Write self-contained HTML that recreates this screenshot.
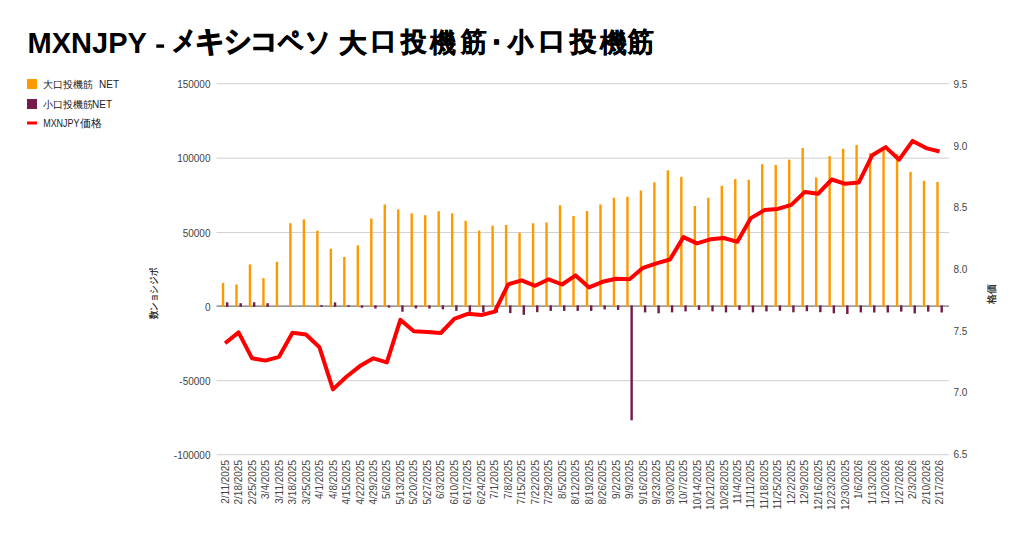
<!DOCTYPE html>
<html><head><meta charset="utf-8">
<style>
html,body{margin:0;padding:0;background:#fff;}
body{width:1024px;height:537px;overflow:hidden;position:relative;}
svg{position:absolute;left:0;top:0;}
text{font-family:"Liberation Sans",sans-serif;}
</style></head><body>
<svg width="1024" height="537" viewBox="0 0 1024 537">
<text transform="translate(27.6,53) scale(1,1.04)" font-size="29" font-weight="bold" fill="#000">MXNJPY</text>
<rect x="156.3" y="44.4" width="7.8" height="3.4" fill="#000"/>
<text transform="translate(172.27,50.02) scale(0.817,0.958)" font-size="29" font-weight="bold" fill="#000" stroke="#000" stroke-width="1.0">メ</text>
<text transform="translate(194.54,50.87) scale(1.028,1.008)" font-size="29" font-weight="bold" fill="#000" stroke="#000" stroke-width="1.0">キ</text>
<text transform="translate(223.64,50.64) scale(0.931,1.020)" font-size="29" font-weight="bold" fill="#000" stroke="#000" stroke-width="1.0">シ</text>
<text transform="translate(249.90,49.99) scale(0.967,0.905)" font-size="29" font-weight="bold" fill="#000" stroke="#000" stroke-width="1.0">コ</text>
<text transform="translate(277.80,50.78) scale(0.860,0.977)" font-size="29" font-weight="bold" fill="#000" stroke="#000" stroke-width="1.0">ペ</text>
<text transform="translate(304.85,50.72) scale(0.883,0.946)" font-size="29" font-weight="bold" fill="#000" stroke="#000" stroke-width="1.0">ソ</text>
<text transform="translate(338.75,51.50) scale(0.954,0.900)" font-size="29" font-weight="bold" fill="#000" stroke="#000" stroke-width="0.9">大</text>
<text transform="translate(371.13,49.33) scale(0.883,0.842)" font-size="29" font-weight="bold" fill="#000" stroke="#000" stroke-width="0.9">口</text>
<text transform="translate(401.09,51.37) scale(0.893,0.947)" font-size="29" font-weight="bold" fill="#000" stroke="#000" stroke-width="0.6">投</text>
<text transform="translate(430.41,52.25) scale(0.907,0.938)" font-size="29" font-weight="bold" fill="#000" stroke="#000" stroke-width="0.25">機</text>
<text transform="translate(461.20,51.28) scale(0.900,0.945)" font-size="29" font-weight="bold" fill="#000" stroke="#000" stroke-width="0.5">筋</text>
<text transform="translate(490.27,51.97) scale(0.883,0.883)" font-size="29" font-weight="bold" fill="#000" stroke="#000" stroke-width="0.6">･</text>
<text transform="translate(507.88,51.47) scale(0.877,0.907)" font-size="29" font-weight="bold" fill="#000" stroke="#000" stroke-width="0.9">小</text>
<text transform="translate(539.08,49.33) scale(0.909,0.842)" font-size="29" font-weight="bold" fill="#000" stroke="#000" stroke-width="0.9">口</text>
<text transform="translate(569.63,51.37) scale(0.927,0.947)" font-size="29" font-weight="bold" fill="#000" stroke="#000" stroke-width="0.6">投</text>
<text transform="translate(600.24,52.25) scale(0.937,0.938)" font-size="29" font-weight="bold" fill="#000" stroke="#000" stroke-width="0.25">機</text>
<text transform="translate(628.30,51.28) scale(0.907,0.945)" font-size="29" font-weight="bold" fill="#000" stroke="#000" stroke-width="0.5">筋</text>
<rect x="27" y="79" width="10" height="10" fill="#ff9900"/>
<text x="43.3" y="88" font-size="10" fill="#222">大口投機筋</text>
<text x="99.1" y="88" font-size="10" fill="#222">NET</text>
<rect x="27" y="99" width="10" height="10" fill="#741b47"/>
<text x="43.3" y="108" font-size="10" fill="#222">小口投機筋</text>
<text x="92.0" y="108" font-size="10" fill="#222">NET</text>
<rect x="27" y="121.5" width="10" height="3" fill="#ff0000"/>
<text x="43.2" y="127" font-size="10" fill="#222" textLength="36.3" lengthAdjust="spacingAndGlyphs">MXNJPY</text>
<text x="79.6" y="127" font-size="10.5" fill="#222">価格</text>
<rect x="216.5" y="83.20" width="732.5" height="1.05" fill="#d2d2d2"/>
<text x="210.5" y="88.10" font-size="10" fill="#444" text-anchor="end">150000</text>
<rect x="216.5" y="157.60" width="732.5" height="1.05" fill="#d2d2d2"/>
<text x="210.5" y="162.30" font-size="10" fill="#444" text-anchor="end">100000</text>
<rect x="216.5" y="232.00" width="732.5" height="1.05" fill="#d2d2d2"/>
<text x="210.5" y="236.60" font-size="10" fill="#444" text-anchor="end">50000</text>
<text x="210.5" y="310.80" font-size="10" fill="#444" text-anchor="end">0</text>
<rect x="216.5" y="380.10" width="732.5" height="1.05" fill="#d2d2d2"/>
<text x="210.5" y="385.10" font-size="10" fill="#444" text-anchor="end">-50000</text>
<rect x="216.5" y="454.20" width="732.5" height="1.05" fill="#d2d2d2"/>
<text x="210.5" y="459.30" font-size="10" fill="#444" text-anchor="end">-100000</text>
<text x="953.5" y="88.10" font-size="10" fill="#444">9.5</text>
<text x="953.5" y="149.73" font-size="10" fill="#444">9.0</text>
<text x="953.5" y="211.36" font-size="10" fill="#444">8.5</text>
<text x="953.5" y="272.99" font-size="10" fill="#444">8.0</text>
<text x="953.5" y="334.62" font-size="10" fill="#444">7.5</text>
<text x="953.5" y="396.25" font-size="10" fill="#444">7.0</text>
<text x="953.5" y="457.88" font-size="10" fill="#444">6.5</text>
<rect x="216.5" y="305.3" width="732.5" height="1.7" fill="#9a9a9a"/>
<rect x="221.80" y="283.00" width="2.4" height="23.80" fill="#ff9900"/>
<rect x="235.28" y="284.50" width="2.4" height="22.30" fill="#ff9900"/>
<rect x="248.76" y="264.40" width="2.4" height="42.40" fill="#ff9900"/>
<rect x="262.24" y="278.20" width="2.4" height="28.60" fill="#ff9900"/>
<rect x="275.72" y="261.70" width="2.4" height="45.10" fill="#ff9900"/>
<rect x="289.20" y="223.20" width="2.4" height="83.60" fill="#ff9900"/>
<rect x="302.69" y="219.40" width="2.4" height="87.40" fill="#ff9900"/>
<rect x="316.17" y="230.70" width="2.4" height="76.10" fill="#ff9900"/>
<rect x="329.65" y="248.70" width="2.4" height="58.10" fill="#ff9900"/>
<rect x="343.13" y="257.00" width="2.4" height="49.80" fill="#ff9900"/>
<rect x="356.61" y="245.40" width="2.4" height="61.40" fill="#ff9900"/>
<rect x="370.09" y="218.50" width="2.4" height="88.30" fill="#ff9900"/>
<rect x="383.57" y="204.50" width="2.4" height="102.30" fill="#ff9900"/>
<rect x="397.05" y="209.40" width="2.4" height="97.40" fill="#ff9900"/>
<rect x="410.53" y="213.40" width="2.4" height="93.40" fill="#ff9900"/>
<rect x="424.01" y="215.20" width="2.4" height="91.60" fill="#ff9900"/>
<rect x="437.50" y="211.20" width="2.4" height="95.60" fill="#ff9900"/>
<rect x="450.98" y="213.40" width="2.4" height="93.40" fill="#ff9900"/>
<rect x="464.46" y="220.80" width="2.4" height="86.00" fill="#ff9900"/>
<rect x="477.94" y="230.60" width="2.4" height="76.20" fill="#ff9900"/>
<rect x="491.42" y="225.70" width="2.4" height="81.10" fill="#ff9900"/>
<rect x="504.90" y="225.00" width="2.4" height="81.80" fill="#ff9900"/>
<rect x="518.38" y="232.70" width="2.4" height="74.10" fill="#ff9900"/>
<rect x="531.86" y="223.30" width="2.4" height="83.50" fill="#ff9900"/>
<rect x="545.34" y="222.50" width="2.4" height="84.30" fill="#ff9900"/>
<rect x="558.82" y="205.30" width="2.4" height="101.50" fill="#ff9900"/>
<rect x="572.31" y="216.00" width="2.4" height="90.80" fill="#ff9900"/>
<rect x="585.79" y="211.00" width="2.4" height="95.80" fill="#ff9900"/>
<rect x="599.27" y="204.50" width="2.4" height="102.30" fill="#ff9900"/>
<rect x="612.75" y="197.80" width="2.4" height="109.00" fill="#ff9900"/>
<rect x="626.23" y="196.80" width="2.4" height="110.00" fill="#ff9900"/>
<rect x="639.71" y="190.50" width="2.4" height="116.30" fill="#ff9900"/>
<rect x="653.19" y="182.30" width="2.4" height="124.50" fill="#ff9900"/>
<rect x="666.67" y="170.30" width="2.4" height="136.50" fill="#ff9900"/>
<rect x="680.15" y="176.90" width="2.4" height="129.90" fill="#ff9900"/>
<rect x="693.63" y="206.00" width="2.4" height="100.80" fill="#ff9900"/>
<rect x="707.12" y="197.80" width="2.4" height="109.00" fill="#ff9900"/>
<rect x="720.60" y="185.80" width="2.4" height="121.00" fill="#ff9900"/>
<rect x="734.08" y="179.10" width="2.4" height="127.70" fill="#ff9900"/>
<rect x="747.56" y="179.80" width="2.4" height="127.00" fill="#ff9900"/>
<rect x="761.04" y="164.20" width="2.4" height="142.60" fill="#ff9900"/>
<rect x="774.52" y="164.90" width="2.4" height="141.90" fill="#ff9900"/>
<rect x="788.00" y="159.60" width="2.4" height="147.20" fill="#ff9900"/>
<rect x="801.48" y="148.00" width="2.4" height="158.80" fill="#ff9900"/>
<rect x="814.96" y="177.40" width="2.4" height="129.40" fill="#ff9900"/>
<rect x="828.44" y="156.20" width="2.4" height="150.60" fill="#ff9900"/>
<rect x="841.93" y="148.80" width="2.4" height="158.00" fill="#ff9900"/>
<rect x="855.41" y="145.00" width="2.4" height="161.80" fill="#ff9900"/>
<rect x="868.89" y="153.30" width="2.4" height="153.50" fill="#ff9900"/>
<rect x="882.37" y="150.10" width="2.4" height="156.70" fill="#ff9900"/>
<rect x="895.85" y="153.80" width="2.4" height="153.00" fill="#ff9900"/>
<rect x="909.33" y="171.90" width="2.4" height="134.90" fill="#ff9900"/>
<rect x="922.81" y="180.80" width="2.4" height="126.00" fill="#ff9900"/>
<rect x="936.29" y="182.00" width="2.4" height="124.80" fill="#ff9900"/>
<rect x="226.00" y="302.30" width="2.4" height="4.50" fill="#741b47"/>
<rect x="239.48" y="303.20" width="2.4" height="3.60" fill="#741b47"/>
<rect x="252.96" y="302.30" width="2.4" height="4.50" fill="#741b47"/>
<rect x="266.44" y="303.20" width="2.4" height="3.60" fill="#741b47"/>
<rect x="320.37" y="305.20" width="2.4" height="1.60" fill="#741b47"/>
<rect x="333.85" y="302.40" width="2.4" height="4.40" fill="#741b47"/>
<rect x="347.33" y="305.30" width="2.4" height="1.50" fill="#741b47"/>
<rect x="360.81" y="305.40" width="2.4" height="2.30" fill="#741b47"/>
<rect x="374.29" y="305.40" width="2.4" height="3.10" fill="#741b47"/>
<rect x="387.77" y="305.40" width="2.4" height="2.20" fill="#741b47"/>
<rect x="401.25" y="305.40" width="2.4" height="6.30" fill="#741b47"/>
<rect x="414.73" y="305.40" width="2.4" height="3.00" fill="#741b47"/>
<rect x="428.22" y="305.40" width="2.4" height="3.10" fill="#741b47"/>
<rect x="441.70" y="305.40" width="2.4" height="3.90" fill="#741b47"/>
<rect x="455.18" y="305.40" width="2.4" height="5.40" fill="#741b47"/>
<rect x="468.66" y="305.40" width="2.4" height="6.40" fill="#741b47"/>
<rect x="482.14" y="305.40" width="2.4" height="7.10" fill="#741b47"/>
<rect x="495.62" y="305.40" width="2.4" height="7.20" fill="#741b47"/>
<rect x="509.10" y="305.40" width="2.4" height="7.70" fill="#741b47"/>
<rect x="522.58" y="305.40" width="2.4" height="9.40" fill="#741b47"/>
<rect x="536.06" y="305.40" width="2.4" height="6.80" fill="#741b47"/>
<rect x="549.54" y="305.40" width="2.4" height="5.50" fill="#741b47"/>
<rect x="563.02" y="305.40" width="2.4" height="5.50" fill="#741b47"/>
<rect x="576.51" y="305.40" width="2.4" height="5.50" fill="#741b47"/>
<rect x="589.99" y="305.40" width="2.4" height="5.50" fill="#741b47"/>
<rect x="603.47" y="305.40" width="2.4" height="4.00" fill="#741b47"/>
<rect x="616.95" y="305.40" width="2.4" height="4.50" fill="#741b47"/>
<rect x="630.43" y="305.40" width="2.4" height="114.90" fill="#741b47"/>
<rect x="643.91" y="305.40" width="2.4" height="7.00" fill="#741b47"/>
<rect x="657.39" y="305.40" width="2.4" height="7.90" fill="#741b47"/>
<rect x="670.87" y="305.40" width="2.4" height="7.00" fill="#741b47"/>
<rect x="684.35" y="305.40" width="2.4" height="6.00" fill="#741b47"/>
<rect x="697.83" y="305.40" width="2.4" height="4.50" fill="#741b47"/>
<rect x="711.32" y="305.40" width="2.4" height="6.00" fill="#741b47"/>
<rect x="724.80" y="305.40" width="2.4" height="7.00" fill="#741b47"/>
<rect x="738.28" y="305.40" width="2.4" height="4.50" fill="#741b47"/>
<rect x="751.76" y="305.40" width="2.4" height="7.00" fill="#741b47"/>
<rect x="765.24" y="305.40" width="2.4" height="6.00" fill="#741b47"/>
<rect x="778.72" y="305.40" width="2.4" height="5.40" fill="#741b47"/>
<rect x="792.20" y="305.40" width="2.4" height="6.90" fill="#741b47"/>
<rect x="805.68" y="305.40" width="2.4" height="5.80" fill="#741b47"/>
<rect x="819.16" y="305.40" width="2.4" height="6.80" fill="#741b47"/>
<rect x="832.64" y="305.40" width="2.4" height="7.90" fill="#741b47"/>
<rect x="846.13" y="305.40" width="2.4" height="8.60" fill="#741b47"/>
<rect x="859.61" y="305.40" width="2.4" height="7.00" fill="#741b47"/>
<rect x="873.09" y="305.40" width="2.4" height="7.10" fill="#741b47"/>
<rect x="886.57" y="305.40" width="2.4" height="7.10" fill="#741b47"/>
<rect x="900.05" y="305.40" width="2.4" height="6.20" fill="#741b47"/>
<rect x="913.53" y="305.40" width="2.4" height="8.00" fill="#741b47"/>
<rect x="927.01" y="305.40" width="2.4" height="6.20" fill="#741b47"/>
<rect x="940.49" y="305.40" width="2.4" height="7.10" fill="#741b47"/>
<polyline points="225.10,343.30 238.58,332.40 252.06,358.30 265.54,360.60 279.02,356.80 292.50,332.70 305.99,334.50 319.47,347.30 332.95,389.40 346.43,376.80 359.91,366.10 373.39,358.30 386.87,362.40 400.35,319.80 413.83,331.20 427.31,332.00 440.80,333.00 454.28,318.80 467.76,313.80 481.24,315.10 494.72,311.60 508.20,284.40 521.68,280.40 535.16,285.80 548.64,279.30 562.12,284.50 575.61,275.40 589.09,287.40 602.57,281.80 616.05,278.80 629.53,279.20 643.01,267.80 656.49,263.30 669.97,259.50 683.45,237.10 696.93,243.40 710.42,239.30 723.90,238.00 737.38,241.80 750.86,218.10 764.34,210.10 777.82,208.90 791.30,204.90 804.78,191.90 818.26,193.70 831.75,179.50 845.23,183.80 858.71,182.60 872.19,155.30 885.67,147.10 899.15,159.70 912.63,140.90 926.11,148.10 939.59,151.50" fill="none" stroke="#ff0000" stroke-width="4" stroke-linejoin="round"/>
<text transform="translate(228.70,460) rotate(-90)" font-size="10" fill="#444" text-anchor="end">2/11/2025</text>
<text transform="translate(242.18,460) rotate(-90)" font-size="10" fill="#444" text-anchor="end">2/18/2025</text>
<text transform="translate(255.66,460) rotate(-90)" font-size="10" fill="#444" text-anchor="end">2/25/2025</text>
<text transform="translate(269.14,460) rotate(-90)" font-size="10" fill="#444" text-anchor="end">3/4/2025</text>
<text transform="translate(282.62,460) rotate(-90)" font-size="10" fill="#444" text-anchor="end">3/11/2025</text>
<text transform="translate(296.11,460) rotate(-90)" font-size="10" fill="#444" text-anchor="end">3/18/2025</text>
<text transform="translate(309.59,460) rotate(-90)" font-size="10" fill="#444" text-anchor="end">3/25/2025</text>
<text transform="translate(323.07,460) rotate(-90)" font-size="10" fill="#444" text-anchor="end">4/1/2025</text>
<text transform="translate(336.55,460) rotate(-90)" font-size="10" fill="#444" text-anchor="end">4/8/2025</text>
<text transform="translate(350.03,460) rotate(-90)" font-size="10" fill="#444" text-anchor="end">4/15/2025</text>
<text transform="translate(363.51,460) rotate(-90)" font-size="10" fill="#444" text-anchor="end">4/22/2025</text>
<text transform="translate(376.99,460) rotate(-90)" font-size="10" fill="#444" text-anchor="end">4/29/2025</text>
<text transform="translate(390.47,460) rotate(-90)" font-size="10" fill="#444" text-anchor="end">5/6/2025</text>
<text transform="translate(403.95,460) rotate(-90)" font-size="10" fill="#444" text-anchor="end">5/13/2025</text>
<text transform="translate(417.43,460) rotate(-90)" font-size="10" fill="#444" text-anchor="end">5/20/2025</text>
<text transform="translate(430.92,460) rotate(-90)" font-size="10" fill="#444" text-anchor="end">5/27/2025</text>
<text transform="translate(444.40,460) rotate(-90)" font-size="10" fill="#444" text-anchor="end">6/3/2025</text>
<text transform="translate(457.88,460) rotate(-90)" font-size="10" fill="#444" text-anchor="end">6/10/2025</text>
<text transform="translate(471.36,460) rotate(-90)" font-size="10" fill="#444" text-anchor="end">6/17/2025</text>
<text transform="translate(484.84,460) rotate(-90)" font-size="10" fill="#444" text-anchor="end">6/24/2025</text>
<text transform="translate(498.32,460) rotate(-90)" font-size="10" fill="#444" text-anchor="end">7/1/2025</text>
<text transform="translate(511.80,460) rotate(-90)" font-size="10" fill="#444" text-anchor="end">7/8/2025</text>
<text transform="translate(525.28,460) rotate(-90)" font-size="10" fill="#444" text-anchor="end">7/15/2025</text>
<text transform="translate(538.76,460) rotate(-90)" font-size="10" fill="#444" text-anchor="end">7/22/2025</text>
<text transform="translate(552.24,460) rotate(-90)" font-size="10" fill="#444" text-anchor="end">7/29/2025</text>
<text transform="translate(565.73,460) rotate(-90)" font-size="10" fill="#444" text-anchor="end">8/5/2025</text>
<text transform="translate(579.21,460) rotate(-90)" font-size="10" fill="#444" text-anchor="end">8/12/2025</text>
<text transform="translate(592.69,460) rotate(-90)" font-size="10" fill="#444" text-anchor="end">8/19/2025</text>
<text transform="translate(606.17,460) rotate(-90)" font-size="10" fill="#444" text-anchor="end">8/26/2025</text>
<text transform="translate(619.65,460) rotate(-90)" font-size="10" fill="#444" text-anchor="end">9/2/2025</text>
<text transform="translate(633.13,460) rotate(-90)" font-size="10" fill="#444" text-anchor="end">9/9/2025</text>
<text transform="translate(646.61,460) rotate(-90)" font-size="10" fill="#444" text-anchor="end">9/16/2025</text>
<text transform="translate(660.09,460) rotate(-90)" font-size="10" fill="#444" text-anchor="end">9/23/2025</text>
<text transform="translate(673.57,460) rotate(-90)" font-size="10" fill="#444" text-anchor="end">9/30/2025</text>
<text transform="translate(687.05,460) rotate(-90)" font-size="10" fill="#444" text-anchor="end">10/7/2025</text>
<text transform="translate(700.53,460) rotate(-90)" font-size="10" fill="#444" text-anchor="end">10/14/2025</text>
<text transform="translate(714.02,460) rotate(-90)" font-size="10" fill="#444" text-anchor="end">10/21/2025</text>
<text transform="translate(727.50,460) rotate(-90)" font-size="10" fill="#444" text-anchor="end">10/28/2025</text>
<text transform="translate(740.98,460) rotate(-90)" font-size="10" fill="#444" text-anchor="end">11/4/2025</text>
<text transform="translate(754.46,460) rotate(-90)" font-size="10" fill="#444" text-anchor="end">11/11/2025</text>
<text transform="translate(767.94,460) rotate(-90)" font-size="10" fill="#444" text-anchor="end">11/18/2025</text>
<text transform="translate(781.42,460) rotate(-90)" font-size="10" fill="#444" text-anchor="end">11/25/2025</text>
<text transform="translate(794.90,460) rotate(-90)" font-size="10" fill="#444" text-anchor="end">12/2/2025</text>
<text transform="translate(808.38,460) rotate(-90)" font-size="10" fill="#444" text-anchor="end">12/9/2025</text>
<text transform="translate(821.86,460) rotate(-90)" font-size="10" fill="#444" text-anchor="end">12/16/2025</text>
<text transform="translate(835.35,460) rotate(-90)" font-size="10" fill="#444" text-anchor="end">12/23/2025</text>
<text transform="translate(848.83,460) rotate(-90)" font-size="10" fill="#444" text-anchor="end">12/30/2025</text>
<text transform="translate(862.31,460) rotate(-90)" font-size="10" fill="#444" text-anchor="end">1/6/2026</text>
<text transform="translate(875.79,460) rotate(-90)" font-size="10" fill="#444" text-anchor="end">1/13/2026</text>
<text transform="translate(889.27,460) rotate(-90)" font-size="10" fill="#444" text-anchor="end">1/20/2026</text>
<text transform="translate(902.75,460) rotate(-90)" font-size="10" fill="#444" text-anchor="end">1/27/2026</text>
<text transform="translate(916.23,460) rotate(-90)" font-size="10" fill="#444" text-anchor="end">2/3/2026</text>
<text transform="translate(929.71,460) rotate(-90)" font-size="10" fill="#444" text-anchor="end">2/10/2026</text>
<text transform="translate(943.19,460) rotate(-90)" font-size="10" fill="#444" text-anchor="end">2/17/2026</text>
<text transform="translate(156.5,293.6) rotate(-90)" font-size="10" fill="#222" stroke="#222" stroke-width="0.25" text-anchor="middle" textLength="51.4" lengthAdjust="spacingAndGlyphs">数ンョシジポ</text>
<text transform="translate(995,294.4) rotate(-90)" font-size="10" fill="#222" stroke="#222" stroke-width="0.25" text-anchor="middle">格価</text>
</svg></body></html>
